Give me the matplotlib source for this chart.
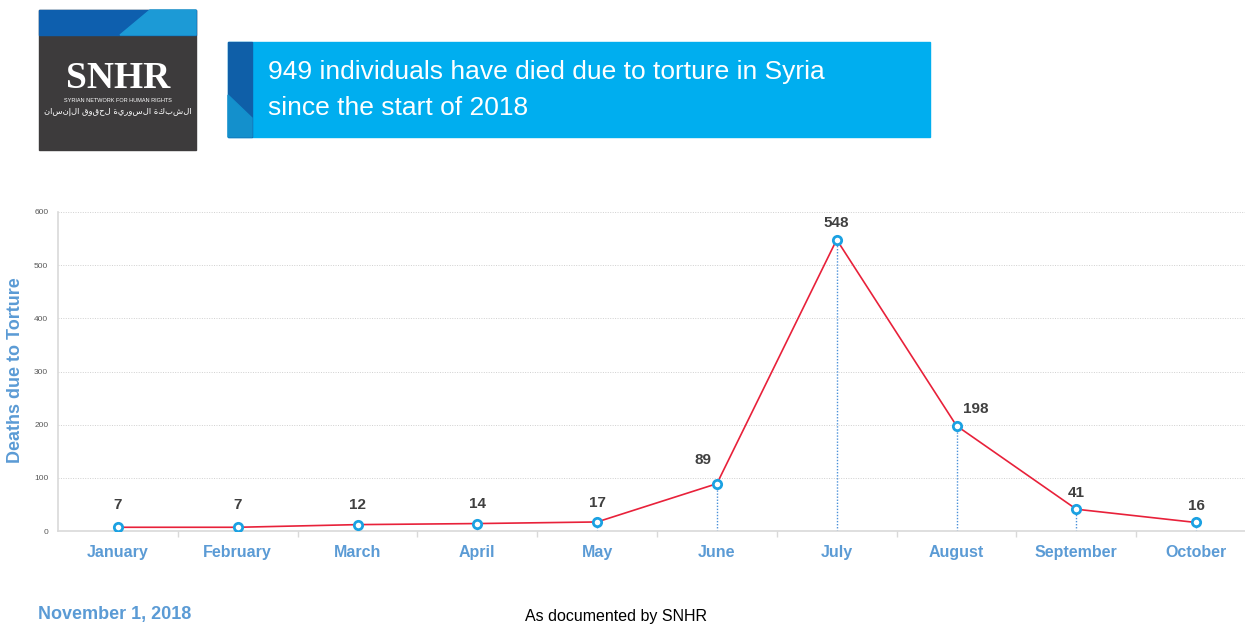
import matplotlib
matplotlib.use('Agg')
import matplotlib.pyplot as plt
from matplotlib.patches import Rectangle, Polygon

plt.rcParams['font.family'] = ['Liberation Sans', 'DejaVu Sans']

months = ['January', 'February', 'March', 'April', 'May', 'June',
          'July', 'August', 'September', 'October']
deaths = [7, 7, 12, 14, 17, 89, 548, 198, 41, 16]
yticks = [0, 100, 200, 300, 400, 500, 600]
title_lines = ['949 individuals have died due to torture in Syria', 'since the start of 2018']

W, H = 1245, 626
fig = plt.figure(figsize=(W / 100, H / 100), dpi=100)
fig.patch.set_facecolor('white')

def fx(px):
    return px / W

def fy(py):
    return 1 - py / H

blue_txt = '#5B9BD5'

# logo block
fig.patches.append(Rectangle((fx(39), fy(150)), fx(157), (150 - 10) / H,
                             transform=fig.transFigure, color='#3D3B3C', zorder=0))
fig.patches.append(Rectangle((fx(39), fy(35)), fx(157), 25 / H,
                             transform=fig.transFigure, color='#0E5FAE', zorder=1))
fig.patches.append(Polygon([(fx(120), fy(35)), (fx(150), fy(10)), (fx(196), fy(10)), (fx(196), fy(35))],
                           closed=True, transform=fig.transFigure, color='#1C9AD6', zorder=2))
fig.text(fx(118), fy(79), 'SNHR', color='white', fontsize=27, fontweight='bold',
         family='Liberation Serif', ha='center', va='center')
fig.text(fx(118), fy(100), 'SYRIAN NETWORK FOR HUMAN RIGHTS', color='white', fontsize=4,
         ha='center', va='center')
arabic = 'الشبكة السورية لحقوق الإنسان'
fig.text(fx(118), fy(111), arabic[::-1], color='white', fontsize=6, family='DejaVu Sans',
         ha='center', va='center')

# title box
fig.patches.append(Rectangle((fx(228), fy(137)), fx(702), 95 / H,
                             transform=fig.transFigure, color='#00AEEF', zorder=0))
fig.patches.append(Rectangle((fx(228), fy(137)), fx(24), 95 / H,
                             transform=fig.transFigure, color='#0F5FA8', zorder=1))
fig.patches.append(Polygon([(fx(228), fy(95)), (fx(252), fy(118)), (fx(252), fy(137)), (fx(228), fy(137))],
                           closed=True, transform=fig.transFigure, color='#1490CC', zorder=2))
fig.text(fx(268), fy(72), title_lines[0], color='white', fontsize=19,
         va='center', ha='left')
fig.text(fx(268), fy(108), title_lines[1], color='white', fontsize=19,
         va='center', ha='left')

# chart
ax = fig.add_axes([fx(58), (H - 531) / H, 1198 / W, 319 / H])
x = list(range(len(months)))
ax.set_xlim(-0.5, len(months) - 0.5)
ax.set_ylim(0, 600)

for v in yticks[1:]:
    ax.axhline(v, color='#D0D0D0', lw=0.7, ls=(0, (1, 1.5)), zorder=0)
for xi, v in zip(x, deaths):
    ax.plot([xi, xi], [0, v], color='#4A90D9', lw=1.0, ls=(0, (1, 1.2)), zorder=1)

ax.plot(x, deaths, color='#E8213A', lw=1.2, zorder=2)
ax.plot(x, deaths, ls='none', marker='o', ms=6, mfc='white', mec='#1BA1E2', mew=2, zorder=3)

offsets = [(0, 16), (0, 16), (0, 14), (0, 14), (0, 14), (-10, 17), (0, 12), (14, 12), (0, 12), (0, 12)]
for xi, v, off in zip(x, deaths, offsets):
    ax.annotate(str(v), (xi, v), xytext=off, textcoords='offset points', ha='center', va='center',
                fontsize=11, fontweight='bold', color='#404040')

for s in ['top', 'right']:
    ax.spines[s].set_visible(False)
for s in ['left', 'bottom']:
    ax.spines[s].set_color('#D9D9D9')
    ax.spines[s].set_linewidth(1.2)

ax.set_yticks(yticks)
ax.set_yticklabels([str(v) for v in yticks], fontsize=6, color='#595959')
ax.tick_params(axis='y', length=0, pad=7)
ax.set_xticks([i + 0.5 for i in x[:-1]], minor=True)
ax.set_xticks(x)
ax.set_xticklabels(months, fontsize=11.5, fontweight='bold', color=blue_txt)
ax.tick_params(axis='x', which='major', length=0, pad=10)
ax.tick_params(axis='x', which='minor', length=4, color='#D9D9D9', width=1)

fig.text(fx(16), fy(370), 'Deaths due to Torture', rotation=90, fontsize=13, fontweight='bold',
         color=blue_txt, ha='center', va='center')

fig.text(fx(38), fy(615), 'November 1, 2018', fontsize=13, fontweight='bold', color=blue_txt,
         ha='left', va='center')
fig.text(fx(616), fy(617), 'As documented by SNHR', fontsize=11.5, color='black', ha='center', va='center')

fig.savefig('out.png', dpi=100)
